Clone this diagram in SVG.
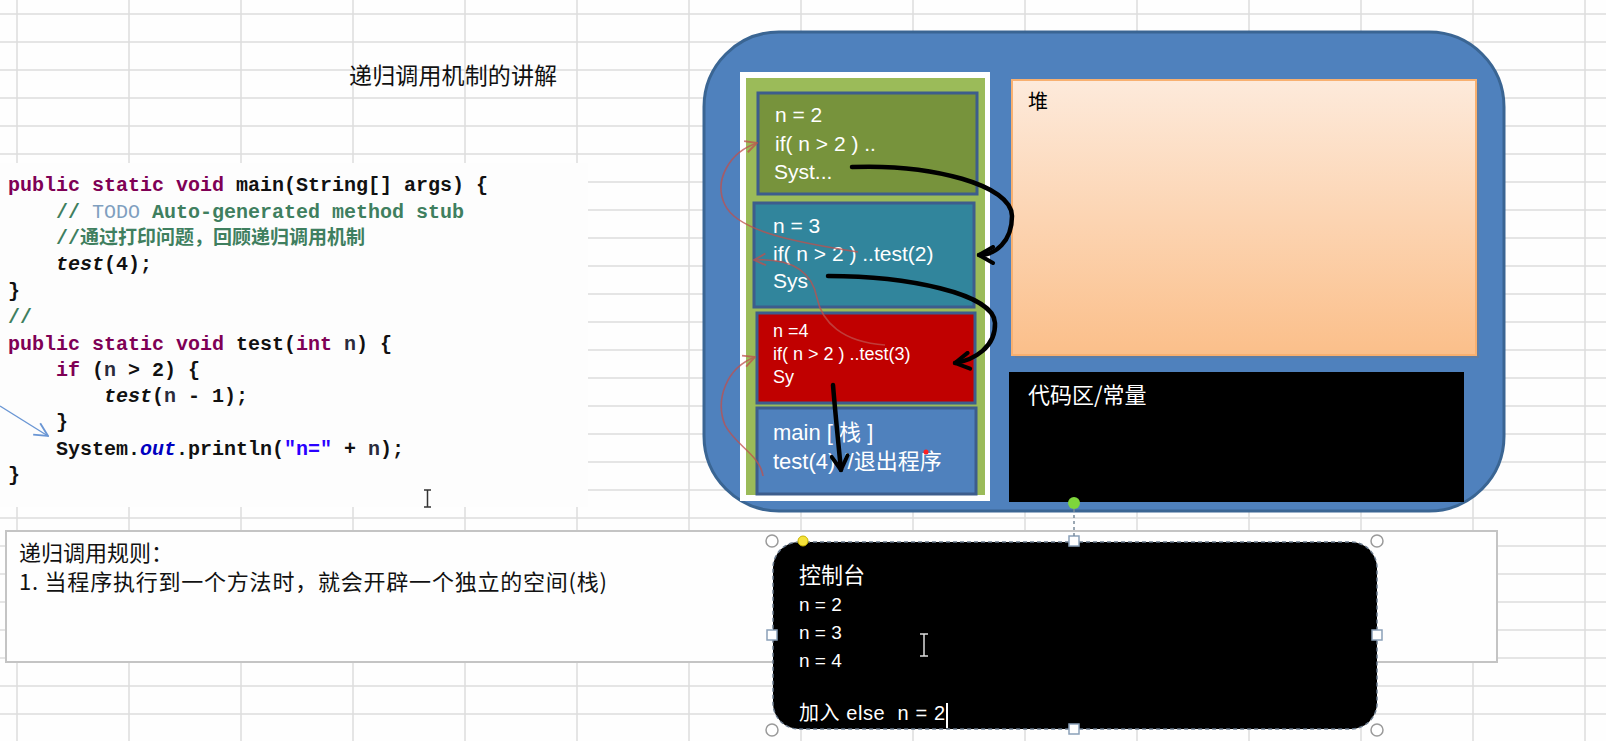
<svg xmlns="http://www.w3.org/2000/svg" width="1606" height="741" viewBox="0 0 1606 741">
<style>
.grid line{stroke:#dcdcdc;stroke-width:1.5}
.code{font-family:"Liberation Mono",monospace;font-size:20px;fill:#111;font-weight:bold}
.kw{fill:#7f0055;font-weight:bold}
.cm{fill:#3f7f5f}
.todo{fill:#7f9fbf;font-weight:normal}
.it{font-style:italic}
.var{fill:#2b2b3b}
.cjk{font-family:"Noto Sans CJK SC",sans-serif}
.st{font-family:"Liberation Sans","Noto Sans CJK SC",sans-serif;fill:#fff}
.frame{stroke:#3d5d8c;stroke-width:3}
.blk{fill:none;stroke:#000;stroke-width:4.5;stroke-linecap:round}
.red{fill:none;stroke:#c0504d;stroke-width:1.6;opacity:.75}
.handle{fill:#fff;stroke:#9a9a9a;stroke-width:1.5}
.sq{fill:#fff;stroke:#8aa0b8;stroke-width:1.5}
</style>
<defs>
<linearGradient id="heapg" x1="0" y1="0" x2="0" y2="1">
<stop offset="0" stop-color="#fdeadb"/>
<stop offset="1" stop-color="#fbbf8a"/>
</linearGradient>
<marker id="mblk" viewBox="0 0 20 20" refX="17" refY="10" markerWidth="20" markerHeight="20" markerUnits="userSpaceOnUse" orient="auto">
<path d="M3,2 L17,10 L3,18" fill="none" stroke="#000" stroke-width="4" stroke-linecap="round" stroke-linejoin="round"/>
</marker>
<marker id="mred" viewBox="0 0 12 12" refX="11" refY="6" markerWidth="14" markerHeight="14" markerUnits="userSpaceOnUse" orient="auto">
<path d="M1,1 L11,6 L1,11" fill="none" stroke="#c0504d" stroke-width="1.6"/>
</marker>
<marker id="mblue" viewBox="0 0 12 12" refX="11" refY="6" markerWidth="16" markerHeight="16" markerUnits="userSpaceOnUse" orient="auto">
<path d="M1,1 L11,6 L1,11" fill="none" stroke="#6a96d4" stroke-width="1.4"/>
</marker>
</defs>
<rect width="1606" height="741" fill="#fefefe"/>
<g class="grid">
<line x1="0" y1="14" x2="1606" y2="14"/><line x1="0" y1="42" x2="1606" y2="42"/><line x1="0" y1="70" x2="1606" y2="70"/><line x1="0" y1="98" x2="1606" y2="98"/><line x1="0" y1="126" x2="1606" y2="126"/><line x1="0" y1="154" x2="1606" y2="154"/><line x1="0" y1="182" x2="1606" y2="182"/><line x1="0" y1="210" x2="1606" y2="210"/><line x1="0" y1="238" x2="1606" y2="238"/><line x1="0" y1="266" x2="1606" y2="266"/><line x1="0" y1="294" x2="1606" y2="294"/><line x1="0" y1="322" x2="1606" y2="322"/><line x1="0" y1="350" x2="1606" y2="350"/><line x1="0" y1="378" x2="1606" y2="378"/><line x1="0" y1="406" x2="1606" y2="406"/><line x1="0" y1="434" x2="1606" y2="434"/><line x1="0" y1="462" x2="1606" y2="462"/><line x1="0" y1="490" x2="1606" y2="490"/><line x1="0" y1="518" x2="1606" y2="518"/><line x1="0" y1="546" x2="1606" y2="546"/><line x1="0" y1="574" x2="1606" y2="574"/><line x1="0" y1="602" x2="1606" y2="602"/><line x1="0" y1="630" x2="1606" y2="630"/><line x1="0" y1="658" x2="1606" y2="658"/><line x1="0" y1="686" x2="1606" y2="686"/><line x1="0" y1="714" x2="1606" y2="714"/>
<line x1="17" y1="0" x2="17" y2="741"/><line x1="129" y1="0" x2="129" y2="741"/><line x1="241" y1="0" x2="241" y2="741"/><line x1="353" y1="0" x2="353" y2="741"/><line x1="465" y1="0" x2="465" y2="741"/><line x1="577" y1="0" x2="577" y2="741"/><line x1="689" y1="0" x2="689" y2="741"/><line x1="801" y1="0" x2="801" y2="741"/><line x1="913" y1="0" x2="913" y2="741"/><line x1="1025" y1="0" x2="1025" y2="741"/><line x1="1137" y1="0" x2="1137" y2="741"/><line x1="1249" y1="0" x2="1249" y2="741"/><line x1="1361" y1="0" x2="1361" y2="741"/><line x1="1473" y1="0" x2="1473" y2="741"/><line x1="1585" y1="0" x2="1585" y2="741"/>
</g>

<g id="title">
<text x="349" y="84" font-family="Noto Sans CJK SC, sans-serif" font-size="23" fill="#111" textLength="208">递归调用机制的讲解</text>
</g>

<g id="code">
<rect x="0" y="163" width="588" height="344" fill="#fdfdfd"/>
<text class="code" x="8" y="191" xml:space="preserve"><tspan class="kw">public static void</tspan> main(String[] args) {</text>
<text class="code" x="56" y="218" xml:space="preserve"><tspan class="cm">// </tspan><tspan class="todo">TODO</tspan><tspan class="cm"> Auto-generated method stub</tspan></text>
<text class="code" x="56" y="244"><tspan class="cm">//</tspan><tspan class="cm cjk" font-size="19">通过打印问题，回顾递归调用机制</tspan></text>
<text class="code" x="56" y="270"><tspan class="it">test</tspan>(4);</text>
<text class="code" x="8" y="297">}</text>
<text class="code" x="8" y="323"><tspan class="cm">//</tspan></text>
<text class="code" x="8" y="350" xml:space="preserve"><tspan class="kw">public static void</tspan> test(<tspan class="kw">int</tspan> <tspan class="var">n</tspan>) {</text>
<text class="code" x="56" y="376" xml:space="preserve"><tspan class="kw">if</tspan> (<tspan class="var">n</tspan> &gt; 2) {</text>
<text class="code" x="104" y="402" xml:space="preserve"><tspan class="it">test</tspan>(<tspan class="var">n</tspan> - 1);</text>
<text class="code" x="56" y="428">}</text>
<text class="code" x="56" y="455" xml:space="preserve">System.<tspan class="it" fill="#0000c0">out</tspan>.println(<tspan fill="#2a00ff">"n="</tspan> + <tspan class="var">n</tspan>);</text>
<text class="code" x="8" y="481">}</text>
</g>

<g id="cursor-code" stroke="#333" stroke-width="1.5" fill="none">
<path d="M424,490 H431 M427.5,490 V507 M424,507 H431"/>
</g>

<g id="memory">
<rect x="704" y="32" width="800" height="479" rx="75" fill="#4f81bd" stroke="#3a6593" stroke-width="3"/>
</g>

<g id="stack">
<rect x="740" y="72" width="250" height="429" fill="#fff"/>
<rect x="746" y="78" width="239" height="417" fill="#9bbb59"/>
</g>

<g id="frame-n2">
<rect class="frame" x="758" y="93" width="219" height="101" fill="#77933c"/>
<text class="st" font-size="21" x="775" y="122">n = 2</text>
<text class="st" font-size="21" x="775" y="151">if( n &gt; 2 ) ..</text>
<text class="st" font-size="21" x="774" y="179">Syst...</text>
</g>

<g id="frame-n3">
<rect class="frame" x="754" y="203" width="220" height="104" fill="#31859c"/>
<text class="st" font-size="21" x="773" y="233">n = 3</text>
<text class="st" font-size="21" x="773" y="261">if( n &gt; 2 ) ..test(2)</text>
<text class="st" font-size="21" x="773" y="288">Sys</text>
</g>

<g id="frame-n4">
<rect class="frame" x="757" y="313" width="218" height="90" fill="#c00000"/>
<text class="st" font-size="18" x="773" y="337">n =4</text>
<text class="st" font-size="18" x="773" y="360">if( n &gt; 2 ) ..test(3)</text>
<text class="st" font-size="18" x="773" y="383">Sy</text>
</g>

<g id="frame-main">
<rect class="frame" x="757" y="408" width="219" height="86" fill="#4f81bd"/>
<text class="st" font-size="22" x="773" y="440">main [ 栈 ]</text>
<text class="st" font-size="22" x="773" y="469">test(4) //退出程序</text>
<circle cx="926" cy="452" r="2.5" fill="#ff2020"/>
</g>

<g id="heap">
<rect x="1015" y="83" width="464" height="275" fill="#6d7a8c" opacity="0.5"/>
<rect x="1012" y="80" width="464" height="275" fill="url(#heapg)" stroke="#f8b070" stroke-width="2"/>
<text x="1028" y="109" font-family="Noto Sans CJK SC, sans-serif" font-size="20" fill="#000">堆</text>
</g>

<g id="code-area">
<rect x="1009" y="372" width="455" height="130" fill="#000"/>
<text x="1028" y="403" font-family="Noto Sans CJK SC, sans-serif" font-size="22" fill="#fff">代码区/常量</text>
</g>

<g id="rules">
<rect x="6" y="531" width="1491" height="131" fill="#fefefe" stroke="#c4c4c4" stroke-width="2"/>
<text x="19" y="561" font-family="Noto Sans CJK SC, sans-serif" font-size="22" fill="#111">递归调用规则：</text>
<text x="19" y="590" font-family="Noto Sans CJK SC, sans-serif" font-size="22" fill="#111" textLength="588">1. 当程序执行到一个方法时，就会开辟一个独立的空间(栈)</text>
</g>

<g id="console">
<rect x="773" y="542" width="604" height="187" rx="26" fill="#000" stroke="#6a7a8c" stroke-width="1.5" stroke-dasharray="4 3"/>
<text x="799" y="583" font-family="Noto Sans CJK SC, sans-serif" font-size="22" fill="#fff">控制台</text>
<text class="st" font-size="19" x="799" y="611">n = 2</text>
<text class="st" font-size="19" x="799" y="639">n = 3</text>
<text class="st" font-size="19" x="799" y="667">n = 4</text>
<text class="st" font-size="20" x="799" y="720" xml:space="preserve" textLength="146">加入 else  n = 2</text>
<line x1="947" y1="703" x2="947" y2="728" stroke="#fff" stroke-width="2"/>
<path d="M920,634 H928 M924,634 V656 M920,656 H928" stroke="#ddd" stroke-width="1.5" fill="none"/>
<circle class="handle" cx="772" cy="541" r="6"/>
<circle class="handle" cx="1377" cy="541" r="6"/>
<circle class="handle" cx="772" cy="730" r="6"/>
<circle class="handle" cx="1377" cy="730" r="6"/>
<rect class="sq" x="1069" y="536" width="10" height="10"/>
<rect class="sq" x="767" y="630" width="10" height="10"/>
<rect class="sq" x="1372" y="630" width="10" height="10"/>
<rect class="sq" x="1069" y="724" width="10" height="10"/>
<circle cx="803" cy="541" r="5" fill="#f5e23a" stroke="#c8b400" stroke-width="1"/>
</g>

<g id="connectors">
<line x1="1074" y1="509" x2="1074" y2="536" stroke="#7a8a9a" stroke-width="1.5" stroke-dasharray="3 3"/>
<circle cx="1074" cy="503" r="6" fill="#7ed63c"/>
<line x1="0" y1="406" x2="48" y2="436" stroke="#6a96d4" stroke-width="1.4" marker-end="url(#mblue)"/>
<path class="blk" d="M852,167 C932,164 1012,185 1012,216 C1012,242 995,255 979,255" marker-end="url(#mblk)"/>
<path class="blk" d="M828,276 C905,276 994,293 995,323 C996,347 974,360 955,363" marker-end="url(#mblk)"/>
<path class="blk" d="M833,385 C835,410 838,440 841,470" marker-end="url(#mblk)"/>
<path class="red" d="M858,252 C800,243 738,232 725,205 C713,180 730,152 757,143" marker-end="url(#mred)"/>
<path class="red" d="M885,345 C842,342 822,322 817,298 C812,272 792,258 754,260" marker-end="url(#mred)"/>
<path class="red" d="M763,476 C760,455 735,445 725,425 C715,400 726,368 755,357" marker-end="url(#mred)"/>
</g>
</svg>
